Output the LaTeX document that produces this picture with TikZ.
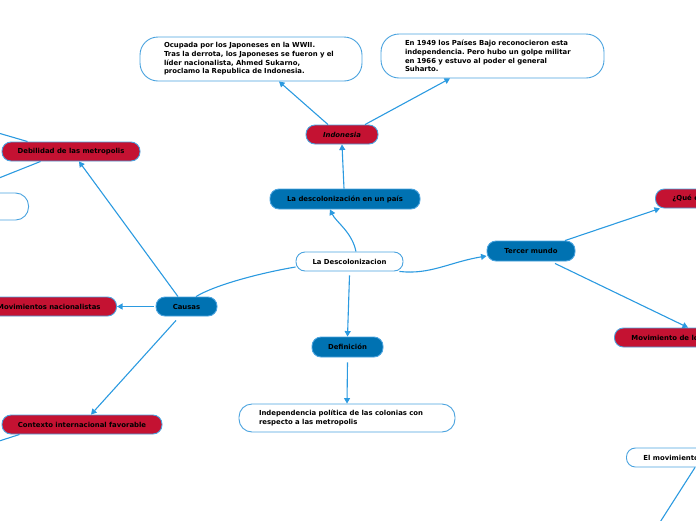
\documentclass[tikz,border=0pt]{standalone}
\usepackage{fontspec}
\setmainfont{DejaVu Sans}
\usetikzlibrary{arrows.meta}
\definecolor{nblue}{RGB}{0,114,178}
\definecolor{nred}{RGB}{196,18,50}
\definecolor{lineblue}{RGB}{43,154,224}
\definecolor{edgeblue}{RGB}{74,163,223}
\frenchspacing
\begin{document}
\begin{tikzpicture}[x=1pt,y=-1pt,
  every node/.style={font=\fontsize{6.9}{8.7}\selectfont\bfseries},
  pill/.style={draw=edgeblue, line width=0.9pt, rounded corners=9pt, minimum height=19pt, inner xsep=0pt, inner ysep=0pt, text=black},
  bluebox/.style={pill, fill=nblue},
  redbox/.style={pill, fill=nred},
  whitebox/.style={pill, fill=white},
  note/.style={draw=edgeblue, line width=0.9pt, fill=white, rounded corners=18pt, align=left, inner ysep=0pt, text=black},
  conn/.style={draw=lineblue, line width=1.1pt},
  arr/.style={conn, -{Triangle[length=5.5pt,width=6pt]}},
]
\path[use as bounding box, clip] (0,0) rectangle (696,520);

% nodes
\node[whitebox, minimum width=107pt] (central) at (349.5,261.5) {La Descolonizacion};
\node[bluebox, minimum width=150pt, minimum height=20pt] (pais) at (345,199) {La descolonización en un país};
\node[redbox, minimum width=72pt, font=\fontsize{6.9}{8.7}\selectfont\bfseries\itshape] (indo) at (342,134.5) {Indonesia};
\node[note, text width=174pt, inner xsep=24pt, minimum height=44pt] (box1) at (251,59)
  {\frenchspacing Ocupada por los Japoneses en la WWII.\\ Tras la derrota, los Japoneses se fueron y el\\ líder nacionalista, Ahmed Sukarno,\\ proclamo la Republica de Indonesia.};
\node[note, text width=175pt, inner xsep=24pt, minimum height=44pt] (box2) at (492.5,56)
  {\frenchspacing En 1949 los Países Bajo reconocieron esta\\ independencia. Pero hubo un golpe militar\\ en 1966 y estuvo al poder el general\\ Suharto.};
\node[bluebox, minimum width=88pt, minimum height=20pt] (tercer) at (531,251) {Tercer mundo};
\node[redbox, anchor=west, inner xsep=17pt] (que) at (655,198.5) {¿Qué es?};
\node[redbox, anchor=west, inner xsep=17pt] (movlo) at (614,337.5) {Movimiento de los No Alineados};
\node[whitebox, anchor=west, inner xsep=17pt] (elmov) at (626,457.5) {El movimiento de los No Alineados};
\node[bluebox, minimum width=71pt, minimum height=20pt] (defin) at (347.5,347) {Definición};
\node[note, text width=176pt, inner xsep=20pt, minimum height=28pt, rounded corners=13pt] (box3) at (347,418)
  {Independencia política de las colonias con\\ respecto a las metropolis};
\node[bluebox, minimum width=61pt] (causas) at (186.5,306.5) {Causas};
\node[redbox, anchor=east, inner xsep=16pt] (movnac) at (117,306.5) {Movimientos nacionalistas};
\node[redbox, minimum width=138pt] (debil) at (71,151.5) {Debilidad de las metropolis};
\node[redbox, minimum width=160pt] (contexto) at (82,424.5) {Contexto internacional favorable};
\node[whitebox, anchor=east, minimum width=140pt, minimum height=27pt, rounded corners=13pt] (leftbox) at (29,206.5) {};

% off-canvas ends
\coordinate (off1) at (-12,130);
\coordinate (off2) at (-12,182.4);
\coordinate (off3) at (-12,444.6);
\coordinate (off4) at (655,530);

% connectors
\draw[arr] ([xshift=6.5pt]central.north) .. controls (352,232) and (336,222) .. ([xshift=-15pt]pais.south);
\draw[arr] ([xshift=-1pt]pais.north) -- (indo.south);
\draw[arr] ([xshift=-14pt]indo.north) -- ([xshift=28pt]box1.south);
\draw[arr] ([xshift=23pt]indo.north) -- ([xshift=-42.5pt]box2.south);
\draw[arr] ([xshift=-4pt]central.south east) .. controls (430,275) and (450,262) .. ([yshift=-5pt]tercer.west);
\draw[arr] ([xshift=34pt]tercer.north) -- ([xshift=5pt]que.south west);
\draw[arr] ([xshift=24pt,yshift=-2pt]tercer.south) -- ([xshift=74pt]movlo.north west);
\draw[arr] ([yshift=-4pt]central.south) -- (defin.north);
\draw[arr] ([yshift=-5pt]defin.south) -- (box3.north);
\draw[conn] ([yshift=-5.5pt]central.west) .. controls (260,273) and (215,285) .. ([xshift=9.5pt]causas.north);
\draw[arr] ([xshift=-8.5pt]causas.north) -- ([xshift=8pt]debil.south);
\draw[arr] ([xshift=-2pt]causas.west) -- (movnac.east);
\draw[arr] ([xshift=-10.5pt,yshift=-4pt]causas.south) -- ([xshift=9pt]contexto.north);
\draw[conn] ([xshift=26pt]debil.north west) -- (off1);
\draw[conn] ([xshift=39pt]debil.south west) -- (off2);
\draw[conn] ([xshift=18pt]contexto.south west) -- (off3);
\draw[conn] ([xshift=69pt]elmov.south west) -- (off4);
\end{tikzpicture}
\end{document}
